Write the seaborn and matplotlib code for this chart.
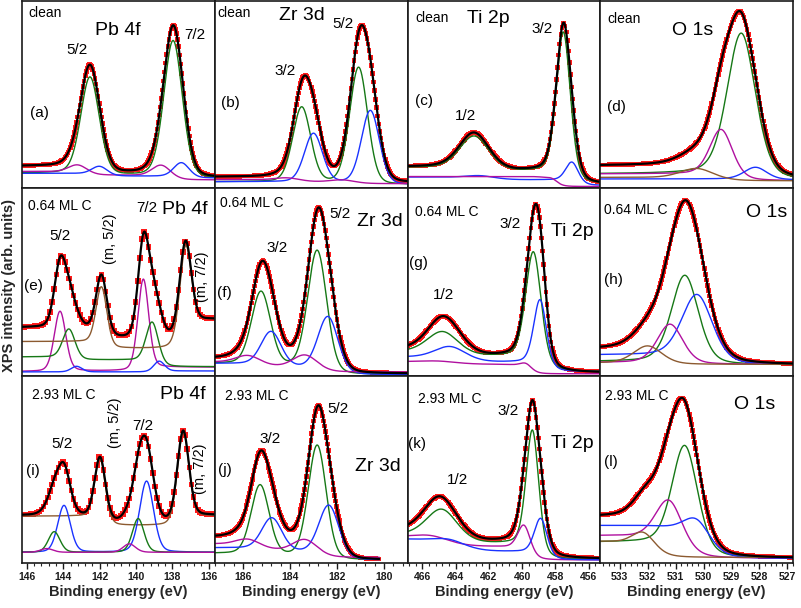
import numpy as np
import matplotlib
matplotlib.use('Agg')
import matplotlib.pyplot as plt
import seaborn as sns
from matplotlib.ticker import MultipleLocator, AutoMinorLocator

sns.set_theme(style='white', rc={'axes.edgecolor': '#1a1a1a', 'axes.linewidth': 1.2})
plt.rcParams['font.family'] = ['Liberation Sans', 'DejaVu Sans']

palette = {'green': '#167816', 'blue': '#1a33ff', 'magenta': '#b0109f', 'brown': '#8c5a30'}
data_red = '#ff1a1a'

# axis windows (eV, left -> right) per column
x_limits = [(146.27, 135.67), (187.2, 179.0), (466.9, 455.3), (533.7, 526.8)]
major_step = [2, 2, 2, 1]
lorentz_share = [0.2, 0.15, 0.3, 0.3]

# fit components: colour, peak centres (eV), heights, FWHM (eV), baseline levels left -> right
a_parts = [
    ('green', [142.53, 137.96], [0.52, 0.73], [1.2, 1.2], [0.08, 0.065, 0.05]),
    ('magenta', [143.2, 138.6], [0.045, 0.066], [1.2, 1.2], [0.09, 0.07, 0.045]),
    ('blue', [142.0, 137.5], [0.045, 0.077], [1.0, 1.0], [0.08, 0.065, 0.055]),
]
a_bg = ([142.53, 137.96], [0.118, 0.077, 0.055])

b_parts = [
    ('green', [183.5, 181.08], [0.40, 0.62], [0.9, 0.9], [0.035, 0.03, 0.02]),
    ('blue', [183.0, 180.58], [0.26, 0.39], [0.9, 0.9], [0.035, 0.03, 0.02]),
    ('magenta', [184.1, 181.76], [0.015, 0.015], [1.2, 1.2], [0.047, 0.035, 0.025]),
]
b_bg = ([183.34, 180.9], [0.061, 0.045, 0.029])

c_parts = [
    ('green', [462.88, 457.52], [0.18, 0.78], [2.1, 1.0], [0.11, 0.085, 0.02]),
    ('blue', [462.5, 457.0], [0.015, 0.11], [2.0, 0.9], [0.06, 0.045, 0.015]),
    ('magenta', [458.16], [0.015], [0.7], [0.063, 0.01]),
]
c_bg = ([462.88, 457.52], [0.115, 0.09, 0.02])

d_parts = [
    ('green', [528.65], [0.77], [1.2], [0.077, 0.04]),
    ('magenta', [529.37], [0.256], [0.96], [0.077, 0.04]),
    ('blue', [528.14], [0.065], [0.96], [0.05, 0.045]),
    ('brown', [530.23], [0.057], [1.4], [0.058, 0.04]),
]
d_bg = ([528.8], [0.12, 0.045])

e_parts = [
    ('magenta', [144.18, 139.6], [0.32, 0.48], [0.75, 0.7], [0.022, 0.025, 0.045]),
    ('green', [143.69, 139.11], [0.157, 0.22], [0.8, 0.8], [0.1, 0.084, 0.048]),
    ('blue', [143.27, 138.73], [0.03, 0.055], [0.7, 0.7], [0.02, 0.02, 0.025]),
    ('brown', [141.9, 137.28], [0.31, 0.47], [0.7, 0.75], [0.182, 0.146, 0.3]),
]
e_bg = ([144.13, 141.9, 139.57, 137.28], [0.257, 0.25, 0.195, 0.19, 0.3])

f_parts = [
    ('green', [185.23, 182.84], [0.39, 0.64], [0.95, 0.95], [0.066, 0.05, 0.006]),
    ('blue', [184.8, 182.38], [0.18, 0.29], [1.0, 1.0], [0.065, 0.045, 0.005]),
    ('magenta', [185.77, 183.34], [0.045, 0.075], [1.2, 1.2], [0.075, 0.05, 0.02]),
]
f_bg = ([185.15, 182.74], [0.093, 0.06, 0.01])

g_parts = [
    ('green', [464.78, 459.32], [0.12, 0.6], [2.2, 1.1], [0.128, 0.1, 0.02]),
    ('blue', [464.32, 458.92], [0.07, 0.36], [2.2, 0.9], [0.1, 0.07, 0.02]),
    ('magenta', [465.0, 459.76], [0.01, 0.03], [2.5, 0.8], [0.076, 0.06, 0.01]),
]
g_bg = ([464.62, 459.22], [0.14, 0.1, 0.015])

h_parts = [
    ('green', [530.67], [0.47], [1.14], [0.075, 0.057]),
    ('blue', [530.23], [0.35], [1.29], [0.11, 0.057]),
    ('magenta', [531.2], [0.21], [1.08], [0.07, 0.06]),
    ('brown', [532.0], [0.095], [1.2], [0.068, 0.06]),
]
h_bg = ([530.6], [0.14, 0.057])

i_parts = [
    ('brown', [141.98, 137.41], [0.33, 0.47], [0.7, 0.75], [0.25, 0.2, 0.25]),
    ('blue', [143.96, 139.42], [0.25, 0.38], [0.82, 0.9], [0.057, 0.057, 0.057]),
    ('green', [144.5, 139.88], [0.11, 0.18], [0.75, 0.75], [0.057, 0.057, 0.057]),
    ('magenta', [144.91, 140.37], [0.02, 0.045], [0.8, 0.8], [0.057, 0.057, 0.057]),
]
i_bg = ([144.09, 141.98, 139.47, 137.41], [0.254, 0.25, 0.21, 0.21, 0.254])

j_parts = [
    ('green', [185.27, 182.84], [0.37, 0.6], [0.9, 0.9], [0.051, 0.04, 0.016]),
    ('blue', [184.77, 182.34], [0.17, 0.27], [1.0, 1.0], [0.081, 0.06, 0.016]),
    ('magenta', [185.77, 183.34], [0.04, 0.075], [1.2, 1.2], [0.104, 0.07, 0.03]),
]
j_bg = ([185.2, 182.77], [0.139, 0.08, 0.016])

k_parts = [
    ('green', [464.82, 459.38], [0.16, 0.65], [2.2, 0.9], [0.152, 0.1, 0.016]),
    ('magenta', [465.42, 459.88], [0.03, 0.15], [2.5, 0.9], [0.145, 0.086, 0.016]),
    ('blue', [464.32, 458.88], [0.03, 0.2], [2.2, 0.9], [0.13, 0.06, 0.016]),
]
k_bg = ([464.82, 459.38], [0.17, 0.11, 0.022])

l_parts = [
    ('green', [530.67], [0.56], [1.08], [0.11, 0.025]),
    ('magenta', [531.23], [0.25], [1.14], [0.145, 0.025]),
    ('blue', [530.23], [0.12], [1.1], [0.2, 0.025]),
    ('brown', [532.14], [0.09], [0.96], [0.116, 0.03]),
]
l_bg = ([530.9], [0.245, 0.025])

# labels inside panels: text, x, y (axes fraction), alignment, size, rotation
a_text = [('clean', .031, .935, 'left', 10, 0), ('Pb 4f', .497, .844, 'center', 14, 0),
          ('5/2', .285, .737, 'center', 11, 0), ('7/2', .896, .817, 'center', 11, 0),
          ('(a)', .088, .403, 'center', 11, 0)]
b_text = [('clean', .016, .935, 'left', 10, 0), ('Zr 3d', .451, .925, 'center', 14, 0),
          ('5/2', .663, .876, 'center', 11, 0), ('3/2', .363, .629, 'center', 11, 0),
          ('(b)', .083, .457, 'center', 11, 0)]
c_text = [('clean', .041, .909, 'left', 10, 0), ('Ti 2p', .42, .909, 'center', 14, 0),
          ('3/2', .70, .849, 'center', 11, 0), ('(c)', .088, .468, 'center', 11, 0),
          ('1/2', .30, .387, 'center', 11, 0)]
d_text = [('clean', .036, .903, 'left', 10, 0), ('O 1s', .477, .844, 'center', 14, 0),
          ('(d)', .083, .435, 'center', 11, 0)]
e_text = [('0.64 ML C', .031, .904, 'left', 10, 0), ('5/2', .197, .743, 'center', 11, 0),
          ('(m, 5/2)', .456, .733, 'center', 10.5, 90), ('7/2', .648, .893, 'center', 11, 0),
          ('Pb 4f', .845, .888, 'center', 14, 0), ('(m, 7/2)', .933, .529, 'center', 10.5, 90),
          ('(e)', .057, .476, 'center', 11, 0)]
f_text = [('0.64 ML C', .026, .92, 'left', 10, 0), ('3/2', .321, .679, 'center', 11, 0),
          ('5/2', .648, .861, 'center', 11, 0), ('Zr 3d', .855, .824, 'center', 14, 0),
          ('(f)', .052, .439, 'center', 11, 0)]
g_text = [('0.64 ML C', .041, .872, 'left', 10, 0), ('3/2', .534, .807, 'center', 11, 0),
          ('Ti 2p', .855, .77, 'center', 14, 0), ('(g)', .057, .604, 'center', 11, 0),
          ('1/2', .187, .428, 'center', 11, 0)]
h_text = [('0.64 ML C', .021, .882, 'left', 10, 0), ('O 1s', .865, .872, 'center', 14, 0),
          ('(h)', .067, .513, 'center', 11, 0)]
i_text = [('2.93 ML C', .052, .899, 'left', 10, 0), ('Pb 4f', .834, .899, 'center', 14, 0),
          ('(m, 5/2)', .482, .746, 'center', 10.5, 90), ('7/2', .627, .73, 'center', 11, 0),
          ('5/2', .207, .635, 'center', 11, 0), ('(m, 7/2)', .922, .503, 'center', 10.5, 90),
          ('(i)', .057, .492, 'center', 11, 0)]
j_text = [('2.93 ML C', .052, .889, 'left', 10, 0), ('5/2', .637, .82, 'center', 11, 0),
          ('3/2', .285, .661, 'center', 11, 0), ('Zr 3d', .845, .513, 'center', 14, 0),
          ('(j)', .052, .497, 'center', 11, 0)]
k_text = [('2.93 ML C', .052, .873, 'left', 10, 0), ('3/2', .523, .81, 'center', 11, 0),
          ('Ti 2p', .855, .64, 'center', 14, 0), ('(k)', .047, .635, 'center', 11, 0),
          ('1/2', .259, .444, 'center', 11, 0)]
l_text = [('2.93 ML C', .026, .889, 'left', 10, 0), ('O 1s', .803, .847, 'center', 14, 0),
          ('(l)', .057, .54, 'center', 11, 0)]

panels = [
    [(a_parts, a_bg, a_text, None), (b_parts, b_bg, b_text, None),
     (c_parts, c_bg, c_text, None), (d_parts, d_bg, d_text, None)],
    [(e_parts, e_bg, e_text, None), (f_parts, f_bg, f_text, None),
     (g_parts, g_bg, g_text, None), (h_parts, h_bg, h_text, None)],
    [(i_parts, i_bg, i_text, None), (j_parts, j_bg, j_text, (187.2, 180.2)),
     (k_parts, k_bg, k_text, None), (l_parts, l_bg, l_text, None)],
]


def line_shape(x, c, h, w, eta):
    d = (x - c) / w
    return h * ((1 - eta) * np.exp(-4 * np.log(2) * d ** 2) + eta / (1 + 4 * d ** 2))


def stepped(x, centres, levels, widths):
    y = np.full_like(x, levels[-1])
    for c, w, hi, lo in zip(centres, widths, levels[:-1], levels[1:]):
        y += (hi - lo) / (1 + np.exp(-(x - c) / w))
    return y


fig, axes = plt.subplots(3, 4, figsize=(8.01, 6.08), dpi=100)
fig.subplots_adjust(left=22 / 801, right=793 / 801, top=1 - 1 / 608,
                    bottom=1 - 563 / 608, wspace=0, hspace=0)

for r, row in enumerate(panels):
    for col, (parts, bg, texts, span) in enumerate(row):
        ax = axes[r, col]
        x0, x1 = span if span else x_limits[col]
        x = np.linspace(x0, x1, 720)
        eta = lorentz_share[col]

        envelope = stepped(x, bg[0], bg[1], [0.35] * len(bg[0]))
        curves = []
        for colour, cs, hs, ws, lv in parts:
            pk = sum(line_shape(x, c, h, w, eta) for c, h, w in zip(cs, hs, ws))
            base = stepped(x, cs, lv, [w / 2.5 for w in ws])
            curves.append((colour, base + pk))
            envelope = envelope + pk

        # the carbon-covered Pb spectra are sparser and noisier
        if col == 0 and r > 0:
            every, dot_size = 8, 16
        else:
            every, dot_size = 4, 11
        sns.scatterplot(x=x[::every], y=envelope[::every], marker='s', s=dot_size,
                        color=data_red, edgecolor='none', linewidth=0, ax=ax, zorder=1)
        for colour, yv in curves:
            sns.lineplot(x=x, y=yv, color=palette[colour], lw=1.0,
                         estimator=None, sort=False, ax=ax, zorder=2)
        sns.lineplot(x=x, y=envelope, color='black', lw=1.6,
                     estimator=None, sort=False, ax=ax, zorder=3)

        ax.set_xlim(*x_limits[col])
        ax.set_ylim(0, 1)
        ax.set_yticks([])
        ax.set_ylabel('')
        ax.set_xlabel('')
        for sp in ax.spines.values():
            sp.set_linewidth(1.2)
            sp.set_color('#1a1a1a')

        for txt, tx, ty, ha, fs, rot in texts:
            ax.text(tx, ty, txt, transform=ax.transAxes, ha=ha, va='center',
                    fontsize=fs, rotation=rot, color='black')

        if r == 2:
            ax.xaxis.set_major_locator(MultipleLocator(major_step[col]))
            ax.xaxis.set_minor_locator(AutoMinorLocator(5))
            ax.tick_params(axis='x', which='major', direction='out', length=4.5,
                           width=1, bottom=True, labelsize=7.5, pad=2, colors='#1a1a1a')
            ax.tick_params(axis='x', which='minor', direction='out', length=2.5,
                           width=0.8, bottom=True)
            plt.setp(ax.get_xticklabels(), fontweight='bold')
            ax.set_xlabel('Binding energy (eV)', fontsize=10.5, fontweight='bold', labelpad=2)
        else:
            ax.set_xticks([])

fig.text(0.011, 1 - 285 / 608, 'XPS intensity (arb. units)', rotation=90,
         ha='center', va='center', fontsize=10.5, fontweight='bold')

fig.savefig('out.png', dpi=100)
